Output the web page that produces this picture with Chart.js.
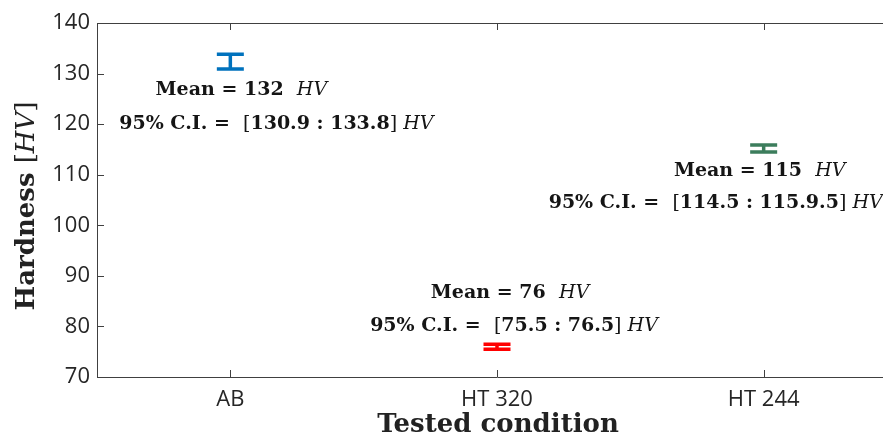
<!DOCTYPE html>
<html>
<head>
<meta charset="utf-8">
<script src="https://cdn.jsdelivr.net/npm/chart.js@4.4.1/dist/chart.umd.min.js"></script>
<style>
  html, body { margin: 0; padding: 0; background: #fff; overflow: hidden; }
  #wrap { width: 900px; height: 439px; }
</style>
</head>
<body>
<div id="wrap"><canvas id="hv" width="900" height="439"></canvas></div>
<script>
// data
const categories = ['AB', 'HT 320', 'HT 244'];
const meanValues = [132, 76, 115];
const ciLower = [130.9, 75.5, 114.5];
const ciUpper = [133.8, 76.5, 115.9];
const ciLabels = ['130.9 : 133.8', '75.5 : 76.5', '114.5 : 115.9.5'];
const barColors = ['#0072BD', '#FF0000', '#3C7D5C'];
const yMin = 70, yMax = 140, yStep = 10;

const serif = '"DejaVu Serif", "Liberation Serif", serif';
const axisColor = '#404040';

// text offsets (px) of the two labels, relative to the bar / mean position
const labelOffsets = [
    { mean: [11, 27], ci: [46, 61] },
    { mean: [13, -54], ci: [17, -21] },
    { mean: [-4, 22], ci: [-48, 54] }
];

function drawRich(ctx, parts, cx, cy) {
    let total = 0;
    parts.forEach(p => { ctx.font = p.f; total += ctx.measureText(p.t).width; });
    let x = cx - total / 2;
    ctx.textAlign = 'left';
    ctx.textBaseline = 'middle';
    parts.forEach(p => {
        ctx.font = p.f;
        ctx.fillText(p.t, x, cy);
        x += ctx.measureText(p.t).width;
    });
}

const errorBars = {
    id: 'errorBars',
    afterDatasetsDraw(chart) {
        const ctx = chart.ctx;
        const xs = chart.scales.x, ys = chart.scales.y;
        const b = 'bold 19px ' + serif, n = '19px ' + serif, it = 'italic 19px ' + serif;
        ctx.save();
        for (let i = 0; i < categories.length; i++) {
            let x = xs.getPixelForValue(i);
            let yl = ys.getPixelForValue(ciLower[i]);
            let yu = ys.getPixelForValue(ciUpper[i]);
            let ym = ys.getPixelForValue(meanValues[i]);
            ctx.strokeStyle = barColors[i];
            ctx.lineWidth = 3.5;
            ctx.beginPath();
            ctx.moveTo(x, yl); ctx.lineTo(x, yu);
            ctx.moveTo(x - 13.5, yl); ctx.lineTo(x + 13.5, yl);
            ctx.moveTo(x - 13.5, yu); ctx.lineTo(x + 13.5, yu);
            ctx.stroke();

            ctx.fillStyle = '#151515';
            let o = labelOffsets[i];
            drawRich(ctx, [
                { t: 'Mean = ' + meanValues[i] + '  ', f: b },
                { t: 'HV', f: it }
            ], x + o.mean[0], ym + o.mean[1]);
            drawRich(ctx, [
                { t: '95% C.I. =  ', f: b },
                { t: '[', f: n },
                { t: ciLabels[i], f: b },
                { t: '] ', f: n },
                { t: 'HV', f: it }
            ], x + o.ci[0], ym + o.ci[1]);
        }
        ctx.restore();
    },
    afterDraw(chart) {
        const ctx = chart.ctx;
        const a = chart.chartArea;
        const xs = chart.scales.x, ys = chart.scales.y;
        ctx.save();
        // box top + inward ticks
        ctx.strokeStyle = axisColor;
        ctx.lineWidth = 1;
        ctx.beginPath();
        ctx.moveTo(a.left, a.top + 0.5); ctx.lineTo(a.right, a.top + 0.5);
        ys.ticks.forEach(t => {
            let y = Math.round(ys.getPixelForValue(t.value)) + 0.5;
            ctx.moveTo(a.left, y); ctx.lineTo(a.left + 7, y);
        });
        xs.ticks.forEach((t, i) => {
            let x = Math.round(xs.getPixelForValue(i)) + 0.5;
            ctx.moveTo(x, a.bottom); ctx.lineTo(x, a.bottom - 7);
            ctx.moveTo(x, a.top); ctx.lineTo(x, a.top + 7);
        });
        ctx.stroke();

        // axis titles
        ctx.fillStyle = '#222';
        drawRich(ctx, [{ t: 'Tested condition', f: 'bold 26px ' + serif }], 498, 425);
        ctx.translate(27, 206);
        ctx.rotate(-Math.PI / 2);
        drawRich(ctx, [
            { t: 'Hardness ', f: 'bold 26px ' + serif },
            { t: '[', f: '26px ' + serif },
            { t: 'HV', f: 'italic 26px ' + serif },
            { t: ']', f: '26px ' + serif }
        ], 0, 0);
        ctx.restore();
    }
};

new Chart(document.getElementById('hv'), {
    type: 'line',
    data: {
        labels: categories,
        datasets: [{ data: meanValues, showLine: false, pointRadius: 0 }]
    },
    options: {
        responsive: false,
        animation: false,
        layout: { padding: { top: 23, right: 3, left: 0, bottom: 0 } },
        plugins: { legend: { display: false }, tooltip: { enabled: false } },
        scales: {
            x: {
                offset: true,
                grid: { display: false, drawTicks: false },
                border: { display: true, color: axisColor, width: 1 },
                ticks: { color: '#262626', padding: 10, font: { family: 'Open Sans', size: 22 } },
                afterFit(s) { s.height = 62; }
            },
            y: {
                min: yMin, max: yMax,
                grid: { display: false, drawTicks: false },
                border: { display: true, color: axisColor, width: 1 },
                ticks: { stepSize: yStep, color: '#262626', padding: 7, font: { family: 'Open Sans', size: 22 } },
                afterFit(s) { s.width = 97; }
            }
        }
    },
    plugins: [errorBars]
});
</script>
</body>
</html>
